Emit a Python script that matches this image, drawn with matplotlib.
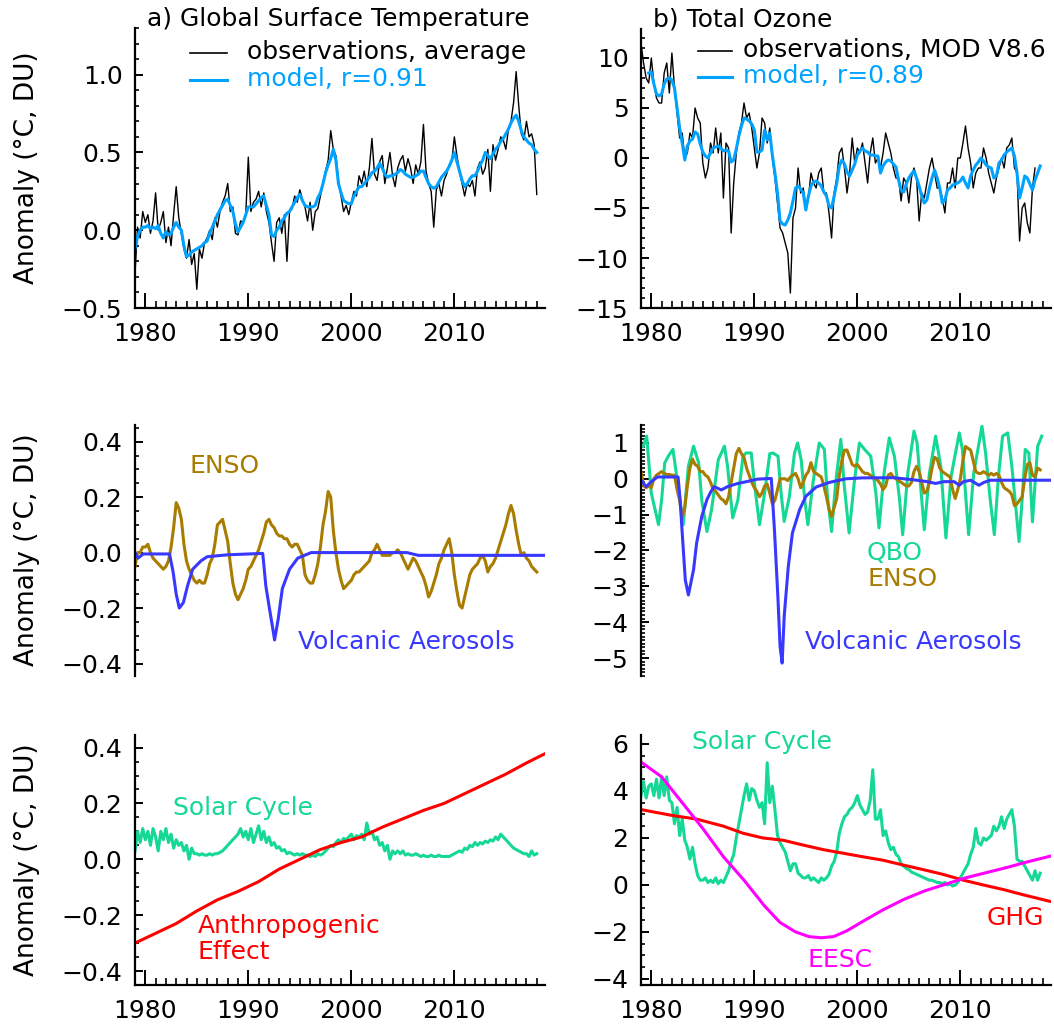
import numpy as np
import matplotlib
matplotlib.use("Agg")
import matplotlib.pyplot as plt
from matplotlib.lines import Line2D
from matplotlib.ticker import FixedLocator, MultipleLocator, FuncFormatter

# ---- data (quarterly unless stated) ----
# a) global surface temperature, 1979.0 .. 2018.0
temp_obs = [
    -0.28, 0.02, -0.05, 0.12, 0.05, 0.10, -0.02, 0.06, 0.24, 0.00, 0.05, 0.12,
    -0.08, 0.02, -0.10, 0.10, 0.28, 0.08, -0.02, -0.12, -0.18, -0.06, -0.22, -0.15,
    -0.38, -0.12, -0.18, -0.08, -0.05, 0.00, -0.06, 0.08, 0.02, 0.12, 0.18, 0.22,
    0.30, 0.12, 0.15, -0.02, -0.03, 0.06, 0.05, 0.10, 0.47, 0.12, 0.18, 0.20,
    0.25, 0.15, 0.24, 0.12, 0.05, -0.08, -0.20, 0.05, 0.08, -0.02, 0.10, -0.20,
    0.12, 0.14, 0.22, 0.18, 0.26, 0.20, 0.15, 0.06, 0.18, 0.00, 0.12, 0.14,
    0.22, 0.30, 0.38, 0.45, 0.64, 0.52, 0.48, 0.32, 0.22, 0.12, 0.16, 0.10,
    0.18, 0.25, 0.22, 0.35, 0.30, 0.38, 0.28, 0.40, 0.59, 0.36, 0.32, 0.44,
    0.48, 0.30, 0.40, 0.50, 0.35, 0.28, 0.40, 0.45, 0.48, 0.38, 0.46, 0.40,
    0.30, 0.42, 0.36, 0.44, 0.68, 0.38, 0.30, 0.25, 0.02, 0.26, 0.30, 0.22,
    0.32, 0.36, 0.42, 0.44, 0.60, 0.48, 0.38, 0.30, 0.22, 0.30, 0.28, 0.32,
    0.22, 0.40, 0.44, 0.36, 0.40, 0.52, 0.25, 0.55, 0.45, 0.52, 0.60, 0.58,
    0.52, 0.65, 0.70, 0.82, 1.02, 0.80, 0.62, 0.58, 0.70, 0.60, 0.62, 0.55,
    0.23]
temp_model = [
    -0.12, -0.04, 0.00, 0.02, 0.02, 0.03, 0.01, 0.02, 0.01, 0.03, -0.02, -0.05,
    -0.01, -0.03, -0.02, 0.02, 0.05, 0.02, 0.00, -0.10, -0.17, -0.16, -0.14, -0.13,
    -0.12, -0.11, -0.10, -0.08, -0.07, -0.02, 0.02, 0.06, 0.10, 0.13, 0.16, 0.19,
    0.20, 0.16, 0.12, 0.04, -0.01, 0.02, 0.05, 0.10, 0.15, 0.15, 0.15, 0.17,
    0.19, 0.21, 0.22, 0.16, 0.10, -0.03, -0.04, 0.00, 0.02, 0.06, 0.08, 0.11,
    0.12, 0.15, 0.18, 0.21, 0.23, 0.19, 0.16, 0.15, 0.15, 0.15, 0.16, 0.21,
    0.24, 0.30, 0.37, 0.42, 0.46, 0.52, 0.45, 0.30, 0.24, 0.19, 0.18, 0.17,
    0.17, 0.22, 0.25, 0.28, 0.28, 0.30, 0.32, 0.34, 0.37, 0.38, 0.40, 0.43,
    0.40, 0.36, 0.34, 0.35, 0.35, 0.36, 0.37, 0.39, 0.38, 0.36, 0.35, 0.34,
    0.34, 0.35, 0.36, 0.38, 0.38, 0.34, 0.30, 0.28, 0.27, 0.28, 0.31, 0.34,
    0.36, 0.38, 0.41, 0.45, 0.50, 0.44, 0.38, 0.32, 0.28, 0.30, 0.33, 0.35,
    0.35, 0.38, 0.42, 0.45, 0.50, 0.48, 0.46, 0.49, 0.52, 0.54, 0.57, 0.59,
    0.62, 0.65, 0.69, 0.72, 0.74, 0.70, 0.64, 0.60, 0.58, 0.56, 0.55, 0.52,
    0.50]

# b) total ozone: obs from 1979.0, model from 1979.75
ozone_obs = [
    11.5, 9.5, 8.0, 7.5, 10.0, 7.5, 6.0, 5.5, 5.5, 8.5, 9.5, 6.5,
    10.5, 7.0, 4.5, 2.0, 2.5, 0.0, 0.5, 2.5, 2.0, 5.0, 4.0, 3.5,
    -0.5, -2.0, -1.0, 1.5, 0.5, 3.0, 0.5, 2.5, -4.0, 1.5, 1.0, -7.5,
    -2.5, 0.5, 2.5, 3.5, 5.5, 4.0, 4.5, 3.0, 1.0, -1.0, 0.5, 4.0,
    3.5, 1.5, 3.0, 0.0, -2.0, -4.5, -7.0, -7.5, -8.5, -9.5, -13.5, -6.0,
    -5.0, -1.0, -3.5, -3.0, -5.0, -4.0, -1.5, -2.5, -3.0, -1.5, -1.0, -3.5,
    -3.5, -5.5, -8.0, -3.5, -2.0, 0.5, 1.0, -1.0, -3.5, -1.5, 2.0, -0.5,
    1.0, 0.5, 1.5, -0.5, -2.5, 0.5, 2.0, -0.5, 0.0, -1.0, 0.5, 2.5,
    1.5, 0.5, -1.0, -2.0, -2.0, -4.3, -2.0, -2.5, -4.5, -2.0, -1.0, -2.0,
    -6.3, -3.5, -4.0, -2.5, -1.0, 0.0, -1.5, -3.0, -3.0, -4.0, -5.5, -2.5,
    -2.5, -1.0, -3.0, 0.0, 0.0, 1.5, 3.2, 1.0, -0.5, -3.0, -1.5, -1.0,
    -1.0, 1.0, 0.0, -1.5, -2.5, -3.5, -2.0, -1.0, 0.0, -1.0, 1.0, 1.3,
    2.0, -1.0, -1.5, -8.3, -5.0, -4.5, -6.5, -7.5, -3.0, -1.0]
ozone_model = [
    8.5,
    8.6, 7.4, 6.4, 6.2, 6.4, 7.4, 7.9, 8.0, 7.8, 7.0, 5.0, 3.0,
    1.5, -0.2, 1.2, 1.7, 1.9, 2.6, 2.4, 1.4, 0.6, 0.2, 0.0, 0.5,
    1.0, 1.1, 1.2, 1.0, 0.7, 0.8, 0.7, -0.4, -0.2, 0.9, 2.2, 3.2,
    4.0, 3.9, 3.7, 3.4, 2.8, 0.6, 0.6, 0.8, 2.8, 1.8, 2.5, 0.3,
    -1.5, -3.5, -6.3, -6.6, -6.7, -6.2, -5.5, -4.3, -3.0, -2.8, -3.1, -3.5,
    -5.2, -3.8, -2.8, -2.4, -2.3, -2.5, -2.8, -3.4, -3.8, -4.8, -5.0, -3.8,
    -2.5, -0.8, -0.2, -0.6, -1.4, -1.8, -1.2, -0.6, 0.3, 0.7, 1.0, 0.7,
    0.6, 0.3, 0.3, 0.2, 0.2, -1.5, -0.8, -0.4, -0.2, -0.3, -0.6, -0.9,
    -2.2, -3.2, -3.4, -2.6, -2.0, -1.6, -1.3, -2.0, -2.8, -3.8, -4.5, -4.2,
    -3.0, -2.0, -1.2, -2.0, -3.0, -4.5, -4.2, -3.2, -3.0, -2.7, -2.6, -2.5,
    -2.3, -1.9, -2.5, -3.0, -1.8, -1.2, -0.7, -0.4, 0.0, -0.3, -0.7, -0.9,
    -1.0, -2.0, -1.8, -0.5, -0.2, 0.3, 0.6, 0.8, 1.0, 0.2, -1.5, -4.0,
    -3.0, -1.8, -2.0, -2.6, -3.2, -2.2, -1.5, -0.8]

# middle row, temperature terms (quarterly from 1979.0)
enso_temp = [
    -0.05, 0.00, 0.00, 0.02, 0.02, 0.03, 0.00, -0.02, -0.03, -0.04, -0.05, -0.06,
    -0.05, -0.03, 0.02, 0.09, 0.18, 0.16, 0.12, 0.03, -0.03, -0.06, -0.08, -0.10,
    -0.11, -0.10, -0.11, -0.11, -0.08, -0.04, -0.02, 0.03, 0.10, 0.11, 0.12, 0.08,
    0.04, -0.04, -0.11, -0.15, -0.17, -0.15, -0.13, -0.10, -0.06, -0.05, -0.03, -0.01,
    0.01, 0.04, 0.07, 0.11, 0.12, 0.10, 0.09, 0.07, 0.06, 0.06, 0.05, 0.05,
    0.03, 0.02, 0.03, 0.03, 0.01, -0.01, -0.08, -0.10, -0.11, -0.11, -0.08, -0.04,
    0.02, 0.10, 0.15, 0.22, 0.20, 0.08, 0.00, -0.06, -0.10, -0.13, -0.12, -0.11,
    -0.10, -0.08, -0.07, -0.07, -0.06, -0.05, -0.04, -0.03, 0.00, 0.01, 0.03, 0.01,
    -0.01, -0.01, -0.01, -0.01, 0.00, 0.00, 0.01, 0.00, -0.02, -0.04, -0.06, -0.04,
    -0.02, -0.03, -0.05, -0.07, -0.09, -0.12, -0.16, -0.14, -0.11, -0.08, -0.04, -0.02,
    0.01, 0.03, 0.05, 0.00, -0.08, -0.14, -0.19, -0.20, -0.16, -0.12, -0.08, -0.06,
    -0.05, -0.04, -0.02, -0.01, -0.03, -0.07, -0.05, -0.04, -0.02, 0.01, 0.04, 0.07,
    0.10, 0.14, 0.17, 0.14, 0.08, 0.03, -0.01, 0.00, -0.02, -0.03, -0.05, -0.06,
    -0.07]
volc_temp_yr = [1979.0, 1979.3, 1979.8, 1982.35, 1982.7, 1983.0, 1983.3, 1983.7, 1984.1,
                1984.6, 1985.4, 1986.0, 1988.0, 1991.4, 1991.7, 1992.0, 1992.4, 1992.55,
                1992.9, 1993.3, 1994.0, 1994.8, 1996.1, 2005.4, 2006.5, 2018.9]
volc_temp = [0.0, -0.02, -0.005, -0.005, -0.07, -0.15, -0.20, -0.18, -0.12,
             -0.06, -0.03, -0.015, -0.008, -0.003, -0.12, -0.19, -0.28, -0.315,
             -0.24, -0.13, -0.06, -0.02, 0.0, 0.0, -0.01, -0.01]

# middle row, ozone terms
qbo_yr = [1979.2, 1979.55, 1980.0, 1980.7, 1981.0, 1981.3, 1981.65, 1982.1, 1982.6, 1983.1,
          1983.6, 1984.1, 1984.6, 1984.9, 1985.4, 1985.85, 1986.5, 1987.1, 1987.4, 1987.9,
          1988.4, 1988.9, 1989.2, 1989.7, 1990.0, 1990.5, 1991.0, 1991.5, 1991.8, 1992.3,
          1992.6, 1992.9, 1993.4, 1993.9, 1994.2, 1994.55, 1994.9, 1995.2, 1995.7, 1996.3,
          1996.8, 1997.1, 1997.5, 1997.9, 1998.4, 1998.7, 1999.2, 1999.7, 2000.2, 2000.7,
          2001.3, 2001.8, 2002.1, 2002.6, 2003.1, 2003.6, 2004.1, 2004.4, 2004.9, 2005.5,
          2005.8, 2006.2, 2006.5, 2007.0, 2007.6, 2008.1, 2008.6, 2009.1, 2009.9, 2010.2,
          2010.5, 2010.8, 2011.3, 2012.1, 2012.45, 2012.9, 2013.3, 2013.7, 2014.1, 2014.6,
          2015.0, 2015.7, 2016.0, 2016.3, 2016.65, 2017.0, 2017.5, 2017.9]
qbo = [0.9, 1.19, -0.4, -1.28, -0.6, 0.44, 0.63, 0.82, -0.2, -1.28,
       0.35, 0.91, 0.44, -0.6, -1.47, -0.86, 0.53, 0.91, 0.35, -1.09,
       -0.6, 0.63, 0.72, 0.72, -0.1, -1.28, -0.4, 0.7, 0.72, 0.63,
       -0.4, -1.19, -0.5, 0.72, 1.0, 0.53, -0.6, -1.28, -0.1, 1.0,
       0.82, -0.5, -1.47, -0.1, 1.1, -0.1, -1.51, -0.1, 1.0, 0.82,
       0.63, -0.4, -1.37, 0.17, 1.14, 0.63, -0.58, -1.56, 0.16, 1.33,
       1.0, -0.4, -1.42, 0.16, 1.19, 0.35, -1.65, 0.07, 1.28, 0.82,
       -0.4, -1.56, 0.16, 1.47, 0.72, -0.58, -1.56, 0.07, 1.19, 1.28,
       0.35, -1.75, -0.58, 0.82, 0.72, -1.2, 0.9, 1.19]
enso_ozone = [
    0.2, -0.2, -0.25, -0.2, -0.25, 0.0, 0.1, 0.15, 0.2, 0.15, 0.12, 0.12,
    0.1, 0.1, -0.3, -0.6, -1.1, -0.8, -0.2, 0.3, 0.55, 0.4, 0.35, 0.2,
    0.2, 0.1, 0.05, -0.1, -0.3, -0.35, -0.45, -0.55, -0.6, -0.7, -0.5, -0.1,
    0.3, 0.7, 0.85, 0.7, 0.6, 0.3, 0.1, -0.1, -0.25, -0.35, -0.5, -0.4,
    -0.2, -0.15, -0.4, -0.7, -0.6, -0.3, 0.0, 0.0, 0.0, -0.05, 0.05, 0.1,
    0.15, 0.0, -0.25, -0.1, 0.1, 0.2, 0.45, 0.2, 0.15, 0.1, 0.05, -0.2,
    -0.5, -0.85, -1.05, -0.8, -0.55, 0.1, 0.5, 0.8, 0.8, 0.6, 0.4, 0.35,
    0.4, 0.3, 0.2, 0.15, 0.15, 0.1, 0.05, 0.0, -0.05, -0.15, -0.3, -0.2,
    0.1, 0.15, 0.05, 0.0, -0.05, -0.1, -0.15, -0.2, -0.2, -0.1, 0.2, 0.35,
    0.2, -0.1, -0.4, -0.35, -0.1, 0.3, 0.6, 0.55, 0.3, 0.2, 0.15, 0.1,
    0.05, -0.3, -0.55, -0.3, 0.0, 0.5, 0.9, 0.85, 0.8, 0.5, 0.2, 0.15,
    0.15, 0.2, 0.15, 0.1, 0.15, 0.1, 0.15, 0.1, -0.1, -0.25, -0.3, -0.35,
    -0.45, -0.75, -0.7, -0.6, -0.5, 0.0, 0.4, 0.45, 0.1, 0.05, 0.3, 0.25]
volc_ozone_yr = [1979.0, 1979.5, 1980.0, 1980.6, 1982.6, 1982.8, 1983.0, 1983.3, 1983.6,
                 1984.1, 1984.4, 1984.9, 1985.4, 1985.8, 1986.1, 1986.8, 1987.4, 1988.4,
                 1989.4, 1990.3, 1991.65, 1991.97, 1992.3, 1992.5, 1992.7, 1992.9, 1993.3,
                 1993.7, 1994.4, 1995.0, 1996.0, 1997.3, 1998.9, 2000.5, 2003.5, 2005.2,
                 2006.8, 2007.6, 2008.4, 2009.4, 2009.9, 2010.3, 2011.0, 2011.8, 2012.3,
                 2012.9, 2018.8]
volc_ozone = [-0.04, -0.22, -0.08, 0.05, 0.05, -0.6, -1.51, -2.82, -3.24,
              -2.54, -1.79, -1.05, -0.58, -0.35, -0.22, -0.31, -0.22, -0.13,
              -0.07, -0.01, 0.01, -1.51, -3.37, -4.68, -5.14, -3.84, -2.44,
              -1.51, -0.86, -0.49, -0.23, -0.1, 0.0, 0.025, 0.03, -0.02,
              -0.08, -0.13, -0.08, -0.08, -0.18, -0.08, -0.04, -0.18, -0.1,
              -0.04, -0.04]

# bottom row, temperature terms
solar_temp = [
    0.03, 0.10, 0.06, 0.11, 0.07, 0.10, 0.05, 0.11, 0.08, 0.03, 0.10, 0.07,
    0.11, 0.06, 0.09, 0.04, 0.07, 0.05, 0.06, 0.03, 0.05, 0.00, 0.04, 0.02,
    0.02, 0.015, 0.02, 0.015, 0.015, 0.02, 0.015, 0.02, 0.02, 0.025, 0.03, 0.04,
    0.05, 0.06, 0.07, 0.08, 0.09, 0.11, 0.08, 0.10, 0.07, 0.11, 0.06, 0.09,
    0.12, 0.07, 0.10, 0.06, 0.08, 0.05, 0.06, 0.04, 0.045, 0.03, 0.035, 0.02,
    0.025, 0.02, 0.015, 0.02, 0.015, 0.02, 0.015, 0.015, 0.01, 0.015, 0.01, 0.02,
    0.015, 0.02, 0.03, 0.04, 0.05, 0.045, 0.06, 0.07, 0.06, 0.075, 0.07, 0.08,
    0.09, 0.07, 0.085, 0.08, 0.09, 0.07, 0.13, 0.09, 0.10, 0.07, 0.08, 0.05,
    0.06, 0.03, 0.05, 0.00, 0.03, 0.02, 0.03, 0.02, 0.03, 0.015, 0.02, 0.015,
    0.015, 0.02, 0.015, 0.01, 0.015, 0.01, 0.01, 0.015, 0.01, 0.01, 0.015, 0.01,
    0.01, 0.01, 0.01, 0.015, 0.02, 0.025, 0.03, 0.025, 0.04, 0.035, 0.05, 0.045,
    0.06, 0.05, 0.06, 0.055, 0.065, 0.06, 0.07, 0.065, 0.08, 0.07, 0.09, 0.08,
    0.07, 0.06, 0.05, 0.04, 0.035, 0.03, 0.025, 0.02, 0.02, 0.01, 0.03, 0.015,
    0.02]
anthro_yr = [1979.0, 1981, 1983, 1985, 1987, 1989, 1991, 1993, 1995, 1997, 1999,
             2001, 2003, 2005, 2007, 2009, 2011, 2013, 2015, 2017, 2018.9]
anthro = [-0.30, -0.265, -0.23, -0.185, -0.145, -0.115, -0.08, -0.035, 0.0, 0.035, 0.06,
          0.08, 0.115, 0.145, 0.175, 0.20, 0.235, 0.27, 0.305, 0.345, 0.38]

# bottom row, ozone terms
solar_ozone = [
    3.8, 4.4, 3.7, 4.2, 4.3, 3.8, 4.5, 3.7, 4.6, 3.8, 4.6, 3.6,
    3.5, 2.6, 3.3, 2.1, 2.8, 1.9, 1.6, 1.1, 1.6, 0.9, 0.4, 0.2,
    0.2, 0.3, 0.1, 0.2, 0.1, 0.3, 0.05, 0.2, 0.1, 0.35, 0.6, 1.0,
    1.3, 2.0, 2.6, 3.2, 3.8, 4.3, 3.6, 4.1, 4.0, 3.6, 3.3, 3.5,
    2.6, 5.2, 3.5, 4.2, 3.2, 2.1, 1.8, 1.6, 1.4, 1.0, 0.6, 0.9,
    0.9, 0.5, 0.4, 0.3, 0.3, 0.4, 0.2, 0.3, 0.2, 0.1, 0.3, 0.2,
    0.3, 0.45, 0.8, 1.0, 1.4, 2.2, 2.6, 2.9, 3.0, 3.2, 3.3, 3.5,
    3.8, 3.4, 3.2, 3.0, 3.1, 3.6, 4.9, 2.8, 2.8, 3.2, 2.1, 2.3,
    1.8, 1.5, 1.6, 1.3, 1.2, 0.9, 0.8, 0.7, 0.65, 0.55, 0.5, 0.45,
    0.4, 0.35, 0.3, 0.25, 0.2, 0.2, 0.15, 0.1, 0.1, 0.05, 0.1, 0.0,
    0.05, -0.05, 0.0, 0.1, 0.3, 0.5, 0.7, 0.9, 1.3, 1.6, 2.4, 1.8,
    1.7, 2.0, 1.9, 2.0, 2.1, 2.5, 2.3, 2.5, 2.9, 2.4, 2.8, 3.0,
    3.2, 2.5, 1.1, 1.0, 1.0, 0.8, 0.6, 0.4, 0.2, 0.6, 0.2, 0.5]
ghg_yr = [1979.07, 1982.1, 1984.4, 1987.0, 1988.9, 1990.8, 1992.8, 1994.7, 1996.7, 1998.6,
          2000.5, 2002.5, 2004.4, 2006.4, 2008.3, 2010.3, 2012.2, 2014.2, 2016.1, 2018.7]
ghg = [3.2, 2.95, 2.8, 2.5, 2.2, 2.0, 1.9, 1.7, 1.5, 1.35,
       1.2, 1.05, 0.85, 0.65, 0.45, 0.2, 0.0, -0.2, -0.42, -0.7]
eesc_yr = [1979.1, 1981.0, 1983.0, 1985.0, 1987.0, 1989.0, 1991.0, 1992.5, 1994.0, 1995.3,
           1996.5, 1997.7, 1999.0, 2000.5, 2002.5, 2004.5, 2006.5, 2008.5, 2010.5, 2012.5,
           2014.5, 2016.5, 2018.7]
eesc = [5.2, 4.6, 3.5, 2.4, 1.2, 0.2, -0.9, -1.6, -2.0, -2.2,
        -2.25, -2.2, -1.95, -1.56, -1.06, -0.62, -0.26, 0.02, 0.3, 0.52,
        0.74, 0.98, 1.22]


def quarterly(values, start):
    return start + np.arange(len(values)) / 4.0


W, H = 1054, 1030
plt.rcParams["font.family"] = "DejaVu Sans"
plt.rcParams["font.size"] = 18

C_MODEL = "#00A2FF"
C_ENSO = "#A87C00"
C_VOLC = "#3838FF"
C_GREEN = "#14D894"
C_RED = "#FF0000"
C_MAG = "#FF00FF"

fig = plt.figure(figsize=(W / 100, H / 100), dpi=100)


def add_axes(px_left, py_top, py_bottom):
    ax = fig.add_axes([px_left / W, 1 - py_bottom / H, 410 / W, (py_bottom - py_top) / H])
    ax.set_facecolor("none")
    return ax


def fmt(decimals):
    def f(v, pos):
        s = f"{v:.{decimals}f}"
        if s.startswith("-"):
            s = "\u2212" + s[1:]
        return s
    return FuncFormatter(f)


def style(ax, ylim, major, minor, decimals, xaxis=True):
    ax.set_xlim(1979.0, 2018.8)
    ax.set_ylim(*ylim)
    for s in ("top", "right"):
        ax.spines[s].set_visible(False)
    ax.spines["left"].set_linewidth(1.6)
    ax.yaxis.set_major_locator(FixedLocator(major))
    ax.yaxis.set_minor_locator(MultipleLocator(minor))
    ax.yaxis.set_major_formatter(fmt(decimals))
    ax.tick_params(axis="y", which="major", direction="in", length=6, width=1.4, pad=9)
    ax.tick_params(axis="y", which="minor", direction="in", length=3, width=1.2)
    if xaxis:
        ax.spines["bottom"].set_linewidth(1.6)
        ax.xaxis.set_major_locator(FixedLocator([1980, 1990, 2000, 2010]))
        ax.xaxis.set_minor_locator(FixedLocator(np.arange(1979, 2019)))
        ax.tick_params(axis="x", which="major", direction="in", length=11, width=1.4, pad=10)
        ax.tick_params(axis="x", which="minor", direction="in", length=5, width=1.2)
    else:
        ax.spines["bottom"].set_visible(False)
        ax.set_xticks([])


def ftext(px, py, s, color="black", **kw):
    fig.text(px / W, 1 - py / H, s, color=color, ha="left", va="center", **kw)


def fline(px0, px1, py, color, lw):
    fig.add_artist(Line2D([px0 / W, px1 / W], [1 - py / H, 1 - py / H],
                          transform=fig.transFigure, color=color, lw=lw))


# ---- top row ----
ax = add_axes(135, 28, 308)
ax.plot(quarterly(temp_obs, 1979.0), temp_obs, color="black", lw=1.0)
ax.plot(quarterly(temp_model, 1979.0), temp_model, color=C_MODEL, lw=2.2)
style(ax, (-0.5, 1.3), [-0.5, 0.0, 0.5, 1.0], 0.1, 1)

ax = add_axes(641, 29, 308)
ax.plot(quarterly(ozone_obs, 1979.0), ozone_obs, color="black", lw=1.0)
ax.plot(quarterly(ozone_model, 1979.75), ozone_model, color=C_MODEL, lw=2.2)
style(ax, (-15, 12.9), [-15, -10, -5, 0, 5, 10], 1, 0)

ftext(147, 19, "a) Global Surface Temperature")
ftext(653, 19, "b) Total Ozone")
fline(190, 227, 53, "black", 1.2)
fline(190, 227, 80, C_MODEL, 2.2)
ftext(247, 52, "observations, average")
ftext(247, 79, "model, r=0.91", color=C_MODEL)
fline(698, 732, 51, "black", 1.2)
fline(698, 732, 77, C_MODEL, 2.2)
ftext(743, 50, "observations, MOD V8.6")
ftext(743, 76, "model, r=0.89", color=C_MODEL)

# ---- middle row ----
ax = add_axes(135, 425, 676)
ax.plot(quarterly(enso_temp, 1979.0), enso_temp, color=C_ENSO, lw=2.2)
ax.plot(volc_temp_yr, volc_temp, color=C_VOLC, lw=2.2)
style(ax, (-0.445, 0.46), [-0.4, -0.2, 0.0, 0.2, 0.4], 0.05, 1, xaxis=False)
ftext(190, 466, "ENSO", color=C_ENSO)
ftext(298, 642, "Volcanic Aerosols", color=C_VOLC)

ax = add_axes(641, 425, 676)
ax.plot(qbo_yr, qbo, color=C_GREEN, lw=2.2)
ax.plot(quarterly(enso_ozone, 1979.0), enso_ozone, color=C_ENSO, lw=2.2)
ax.plot(volc_ozone_yr, volc_ozone, color=C_VOLC, lw=2.2)
style(ax, (-5.5, 1.5), [-5, -4, -3, -2, -1, 0, 1], 0.1, 0, xaxis=False)
ftext(867, 553, "QBO", color=C_GREEN)
ftext(867, 579, "ENSO", color=C_ENSO)
ftext(805, 642, "Volcanic Aerosols", color=C_VOLC)

# ---- bottom row ----
ax = add_axes(135, 735, 985)
ax.plot(quarterly(solar_temp, 1979.0), solar_temp, color=C_GREEN, lw=2.2)
ax.plot(anthro_yr, anthro, color=C_RED, lw=2.2)
style(ax, (-0.45, 0.445), [-0.4, -0.2, 0.0, 0.2, 0.4], 0.05, 1)
ftext(173, 808, "Solar Cycle", color=C_GREEN)
ftext(198, 926, "Anthropogenic", color=C_RED)
ftext(198, 952, "Effect", color=C_RED)

ax = add_axes(641, 735, 985)
ax.plot(quarterly(solar_ozone, 1979.0), solar_ozone, color=C_GREEN, lw=2.2)
ax.plot(ghg_yr, ghg, color=C_RED, lw=2.2)
ax.plot(eesc_yr, eesc, color=C_MAG, lw=2.2)
style(ax, (-4.26, 6.38), [-4, -2, 0, 2, 4, 6], 0.5, 0)
ftext(692, 742, "Solar Cycle", color=C_GREEN)
ftext(807, 960, "EESC", color=C_MAG)
ftext(987, 918, "GHG", color=C_RED)

# y labels, left column only
for yc in (168, 550, 860):
    fig.text(27 / W, 1 - yc / H, "Anomaly (\u00b0C, DU)", rotation=90,
             ha="center", va="center", fontsize=19)

fig.savefig("out.png", dpi=100)
